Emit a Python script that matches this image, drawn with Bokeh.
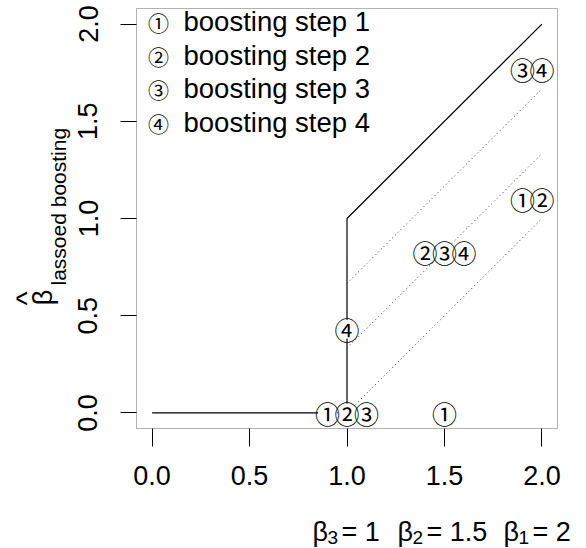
import math
from bokeh.plotting import figure
from bokeh.models import Label, FixedTicker, Range1d, NumeralTickFormatter, BoxAnnotation
from bokeh.core.properties import value
from bokeh.embed import file_html
from bokeh.resources import INLINE

# ---------------- data ----------------
# coefficient path of the lassoed boosting estimator (solid)
path_x = [0.0, 1.0, 1.0, 2.0]
path_y = [0.0, 0.0, 1.0, 2.0]
# dotted reference lines (shifted identity)
dot_x0 = [1.0, 1.0, 1.0]
dot_y0 = [0.0, 1.0 / 3, 2.0 / 3]
dot_x1 = [2.0, 2.0, 2.0]
dot_y1 = [1.0, 4.0 / 3, 5.0 / 3]
# boosting-step markers
step_x = [0.9, 1.0, 1.1, 1.0, 1.5, 1.4, 1.5, 1.6, 1.9, 2.0, 1.9, 2.0]
step_y = [0.0, 0.0, 0.0, 0.43, 0.0, 0.83, 0.83, 0.83, 1.1, 1.1, 1.77, 1.77]
step_sym = ["①", "②", "③", "④", "①", "②", "③", "④", "①", "②", "③", "④"]
# legend
legend_sym = ["①", "②", "③", "④"]
legend_txt = ["boosting step 1", "boosting step 2", "boosting step 3", "boosting step 4"]
# axis ticks
x_ticks = [0.0, 0.5, 1.0, 1.5, 2.0]
y_ticks = [0.0, 0.5, 1.0, 1.5, 2.0]
# true coefficient annotations under the x axis
beta_sub = ["3", "2", "1"]
beta_pos = [1.0, 1.5, 2.0]
beta_val = ["1", "1.5", "2"]

# ---------------- layout ----------------
W, H = 586, 548
FL, FR, FT, FB = 136, 557, 8, 428          # plot box in pixels
BOX = (-0.08, 2.08)                         # plot box in data units
KX = (BOX[1] - BOX[0]) / (FR - FL)          # data units per pixel
KY = (BOX[1] - BOX[0]) / (FB - FT)
XR = (BOX[0] - FL * KX, BOX[1] + (W - FR) * KX)
YR = (BOX[0] - (H - FB) * KY, BOX[1] + FT * KY)
FONT = "Liberation Sans"
CIRC_FONT = "Noto Sans CJK JP"


def X(px):
    return XR[0] + px * KX


def Y(py):
    return YR[1] - py * KY


def xpx(x):
    return (x - XR[0]) / KX


p = figure(width=W, height=H, x_range=Range1d(*XR), y_range=Range1d(*YR),
           output_backend="svg", toolbar_location=None,
           min_border_left=0, min_border_right=0,
           min_border_top=0, min_border_bottom=0)
p.background_fill_color = "white"
p.border_fill_color = "white"
p.outline_line_color = None
p.xgrid.visible = False
p.ygrid.visible = False

# plot box
p.add_layout(BoxAnnotation(left=BOX[0], right=BOX[1], bottom=BOX[0], top=BOX[1],
                           fill_alpha=0, line_color="black", line_width=1))

for ax in (p.xaxis[0], p.yaxis[0]):
    ax.fixed_location = BOX[0]
    ax.axis_line_color = None
    ax.major_tick_in = 0
    ax.minor_tick_in = 0
    ax.minor_tick_out = 0
    ax.major_tick_line_color = "black"
    ax.major_tick_line_width = 1
    ax.major_label_text_font = FONT
    ax.major_label_text_font_size = "27px"
    ax.major_label_text_color = "black"
    ax.formatter = NumeralTickFormatter(format="0.0")

p.xaxis[0].ticker = FixedTicker(ticks=x_ticks)
p.yaxis[0].ticker = FixedTicker(ticks=y_ticks)
p.xaxis[0].major_tick_out = 18
p.xaxis[0].major_label_standoff = 19
p.yaxis[0].major_tick_out = 16
p.yaxis[0].major_label_standoff = 23
p.yaxis[0].major_label_orientation = "vertical"

# lines
p.line(path_x, path_y, line_color="black", line_width=1.2)
p.segment(dot_x0, dot_y0, dot_x1, dot_y1, line_color="#333333",
          line_width=1, line_dash="1 3")

# markers: white disc then circled digit
p.scatter(step_x, step_y, size=19, fill_color="white", line_color=None)
p.text(step_x, step_y, text=step_sym, text_font=value(CIRC_FONT),
       text_font_size="25px", text_align="center", text_baseline="middle",
       text_color="black")

# legend (top-left, no box)
leg_rows = [21, 55, 88, 122]
p.text([X(158)] * 4, [Y(r) for r in leg_rows], text=legend_sym,
       text_font=value(CIRC_FONT), text_font_size="21px",
       text_align="center", text_baseline="middle", text_color="black")
p.text([X(183)] * 4, [Y(r) for r in leg_rows], text=legend_txt,
       text_font=value(FONT), text_font_size="27.5px",
       text_align="left", text_baseline="middle", text_color="black")

# y axis title:  beta-hat with subscript "lassoed boosting"
p.add_layout(Label(x=X(58), y=Y(285), text="lassoed boosting", angle=math.pi / 2,
                   text_font=FONT, text_font_size="21px", text_align="left",
                   text_baseline="alphabetic", text_color="black"))
p.add_layout(Label(x=X(42), y=Y(297), text="β", angle=math.pi / 2,
                   text_font=FONT, text_font_size="27px", text_align="center",
                   text_baseline="alphabetic", text_color="black"))
p.add_layout(Label(x=X(26), y=Y(298), text="^", angle=math.pi / 2,
                   text_font=FONT, text_font_size="30px", text_align="center",
                   text_baseline="middle", text_color="black"))

# beta annotations under the axis
beta_left = [312, 397, 503]
for sub, pos, val, left in zip(beta_sub, beta_pos, beta_val, beta_left):
    off = left - xpx(pos)
    p.add_layout(Label(x=pos, y=Y(531), x_offset=off, text="β",
                       text_font=FONT, text_font_size="27px", text_align="left",
                       text_baseline="alphabetic", text_color="black"))
    p.add_layout(Label(x=pos, y=Y(537), x_offset=off + 15, text=sub,
                       text_font=FONT, text_font_size="19px", text_align="left",
                       text_baseline="alphabetic", text_color="black"))
    p.add_layout(Label(x=pos, y=Y(531), x_offset=off + 29, text="= " + val,
                       text_font=FONT, text_font_size="27px", text_align="left",
                       text_baseline="alphabetic", text_color="black"))

open("out.html", "w").write(file_html(p, INLINE))
